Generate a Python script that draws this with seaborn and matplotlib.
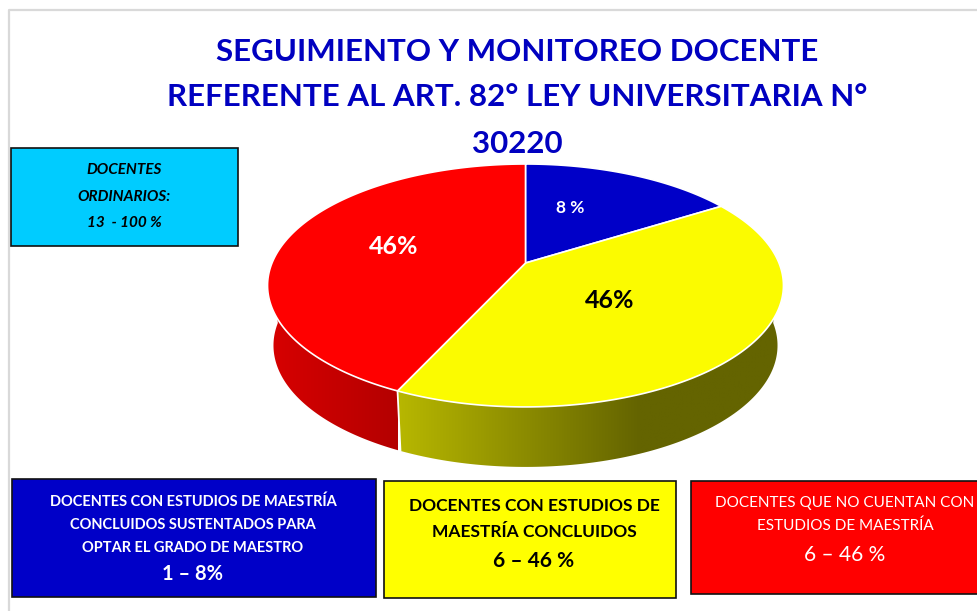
import seaborn as sns
import matplotlib.pyplot as plt, numpy as np
from matplotlib.colors import LinearSegmentedColormap
from matplotlib.patches import Rectangle, Polygon

sns.set_theme(style='white')
plt.rcParams['font.family'] = ['Lato', 'DejaVu Sans']

title_lines = ['SEGUIMIENTO Y MONITOREO DOCENTE', 'REFERENTE AL ART. 82° LEY UNIVERSITARIA N°', '30220']
slice_names = ['maestro', 'concluidos', 'sin estudios']
slice_labels = ['8 %', '46%', '46%']
# share of the circle each wedge really takes in the picture (not what the labels say)
wedge_share = [16.1, 40.8, 43.1]
top_colors = ['#0000c8', '#fbfb00', '#ff0000']

# pie geometry in image pixels
cx, cy = 525.5, 263
a, b, k = 253.5, 117.3, 0.185
depth, shrink = 60, 0.977

def project(theta, s=1.0, dy=0):
    # theta clockwise from the top, circle seen in perspective
    u, v = np.sin(theta), np.cos(theta)
    d = 1 + k*v
    return cx + s*a*u/d, cy - b*v/d + dy

def widest(th1, th2, n=120):
    return np.linspace(np.radians(th1), np.radians(th2), n)

edges = np.cumsum([0] + wedge_share)*3.6

fig, ax = plt.subplots(1, figsize=(9.77, 6.11), dpi=100)
fig.subplots_adjust(0, 0, 1, 1)
ax.set_axis_off()

# page frame
ax.plot([8.5, 8.5, 977], [611, 9.5, 9.5], color='#d9d9d9', lw=1.6)

# side wall
red_cm = sns.blend_palette(['#d80000', '#b40000'], as_cmap=True)
yel_cm = LinearSegmentedColormap.from_list('yel', [(0, '#b8b800'), (0.63, '#646400'), (1, '#646400')])

def wall(th1, th2, cmap, x0, x1):
    ts = widest(th1, th2)
    xt, yt = project(ts)
    xb, yb = project(ts, shrink, depth)
    pts = np.r_[np.c_[xt, yt], np.c_[xb, yb][::-1]]
    im = ax.imshow(np.linspace(0, 1, 256)[None, :], extent=(x0, x1, 480, 270), cmap=cmap,
                   aspect='auto', vmin=0, vmax=1, zorder=2)
    im.set_clip_path(Polygon(pts, transform=ax.transData))

right_side = 90
left_side = 270
wall(right_side, edges[2], yel_cm, 396, 783)
wall(edges[2], left_side, red_cm, 267, 398)

xs, ys = project(np.radians(edges[2]))
xs2, ys2 = project(np.radians(edges[2]), shrink, depth)
ax.plot([xs, xs2], [ys, ys2], color='white', lw=1.3, zorder=3)

# top face
for i, c in enumerate(top_colors):
    ts = widest(edges[i], edges[i+1], 200)
    x, y = project(ts)
    ax.fill(np.r_[cx, x], np.r_[cy, y], color=c, ec='white', lw=1.2, zorder=4, label=slice_names[i])

# wedge labels
ax.text(570, 208, slice_labels[0], color='white', fontsize=12.5, fontweight='bold', ha='center', va='center', zorder=5)
ax.text(610, 300, slice_labels[1], color='black', fontsize=18, fontweight='bold', ha='center', va='center', zorder=5)
ax.text(394, 246, slice_labels[2], color='white', fontsize=18, fontweight='bold', ha='center', va='center', zorder=5)

# title
for txt, yy in zip(title_lines, [52, 97, 144]):
    ax.text(517, yy, txt, color='#0000c0', fontsize=22.5, fontweight='bold', ha='center', va='center', zorder=6)

# boxes
def box(x0, y0, x1, y1, color):
    ax.add_patch(Rectangle((x0, y0), x1-x0, y1-y0, fc=color, ec='#111111', lw=1.2, zorder=5))

box(11, 148, 238, 246, '#00ccff')
for txt, yy in zip(['DOCENTES', 'ORDINARIOS:', '13  - 100 %'], [170, 197, 223]):
    ax.text(124, yy, txt, color='black', fontsize=11, fontweight='bold', style='italic', ha='center', va='center', zorder=6)

box(12, 479, 376, 597, '#0000c8')
for txt, yy, fs in zip(['DOCENTES CON ESTUDIOS DE MAESTRÍA', 'CONCLUIDOS SUSTENTADOS PARA', 'OPTAR EL GRADO DE MAESTRO', '1 – 8%'],
                       [502, 525, 548, 574], [10.5, 10.5, 10.5, 14.5]):
    ax.text(193, yy, txt, color='white', fontsize=fs, fontweight='bold', ha='center', va='center', zorder=6)

box(384, 481, 676, 598, '#ffff00')
for txt, yy, fs in zip(['DOCENTES CON ESTUDIOS DE', 'MAESTRÍA CONCLUIDOS', '6 – 46 %'],
                       [506, 532, 561], [12.5, 12.5, 15]):
    ax.text(534, yy, txt, color='black', fontsize=fs, fontweight='bold', ha='center', va='center', zorder=6)

box(691, 481, 985, 594, '#ff0000')
for txt, yy, fs in zip(['DOCENTES QUE NO CUENTAN CON', 'ESTUDIOS DE MAESTRÍA', '6 – 46 %'],
                       [503, 526, 555], [11, 11, 15]):
    ax.text(845, yy, txt, color='white', fontsize=fs, ha='center', va='center', zorder=6)

ax.set_xlim(0, 977)
ax.set_ylim(611, 0)
plt.savefig('out.png', dpi=100)
plt.close()
